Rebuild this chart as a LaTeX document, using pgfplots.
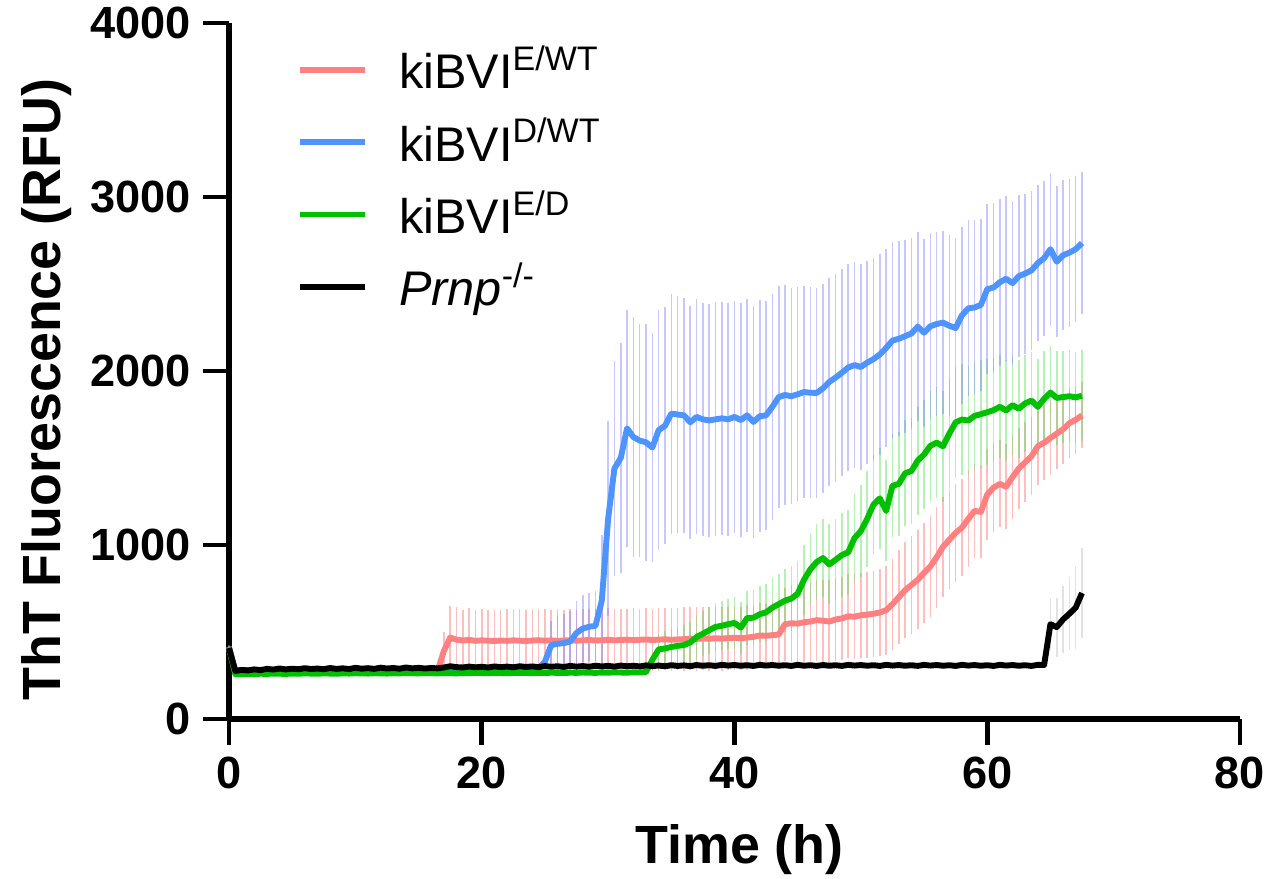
\documentclass[border=0pt]{standalone}
\usepackage{fontspec}
\setmainfont{Liberation Sans}
\usepackage{pgfplots}
\usepackage{pgfplotstable}
\pgfplotsset{compat=1.18}

\definecolor{redline}{RGB}{255,128,128}
\definecolor{blueline}{RGB}{77,148,255}
\definecolor{greenline}{RGB}{0,192,0}
\definecolor{rederr}{RGB}{255,110,110}
\definecolor{blueerr}{RGB}{130,130,255}
\definecolor{greenerr}{RGB}{90,225,90}
\definecolor{blackerr}{RGB}{190,190,190}

% t, mean and SD of each group (RFU)
\pgfplotstableread{
t r re b be g ge k ke
0 414 10 410 10 405 10 408 10
0.5 266 8 279 8 258 8 276 8
1 265 8 280 8 257 8 282 8
1.5 267 8 281 8 259 8 279 8
2 266 8 280 8 258 8 285 8
2.5 268 8 282 8 260 8 281 8
3 267 8 281 8 259 8 288 8
3.5 269 8 283 8 261 8 284 8
4 268 8 282 8 260 8 290 8
4.5 270 8 282 8 259 8 285 8
5 269 8 283 8 261 8 289 8
5.5 271 8 282 8 260 8 286 8
6 270 8 284 8 262 8 292 8
6.5 272 8 283 8 261 8 287 8
7 271 8 282 8 260 8 290 8
7.5 273 8 284 8 262 8 286 8
8 272 8 283 8 261 8 293 8
8.5 271 8 285 8 260 8 288 8
9 273 8 284 8 262 8 291 8
9.5 272 8 283 8 261 8 287 8
10 274 8 285 8 263 8 294 8
10.5 273 8 284 8 262 8 289 8
11 272 8 283 8 261 8 292 8
11.5 274 8 285 8 263 8 288 8
12 273 8 284 8 262 8 295 8
12.5 275 8 286 8 261 8 290 8
13 274 8 285 8 263 8 293 8
13.5 273 8 284 8 262 8 289 8
14 275 8 286 8 264 8 296 8
14.5 274 8 285 8 263 8 291 8
15 276 8 284 8 262 8 294 8
15.5 275 8 286 8 264 8 290 8
16 274 8 285 8 263 8 293 8
16.5 276 8 286 8 262 8 291 8
17 390 110 285 8 264 8 296 8
17.5 468 180 287 8 263 8 303 8
18 456 185 286 8 262 8 298 8
18.5 451 175 288 8 264 8 296 8
19 455 180 287 8 263 8 301 8
19.5 449 178 286 8 265 8 297 8
20 452 182 288 8 264 8 300 8
20.5 450 176 287 8 263 8 296 8
21 448 180 289 8 265 8 302 8
21.5 451 177 288 8 264 8 298 8
22 449 181 287 8 263 8 301 8
22.5 452 178 289 8 265 8 297 8
23 450 180 288 8 264 8 303 8
23.5 448 176 287 8 265 8 299 8
24 451 182 289 8 263 8 302 8
24.5 453 178 290 8 265 8 298 8
25 450 180 330 40 264 8 304 8
25.5 452 177 425 140 266 8 300 8
26 449 181 432 160 265 8 303 8
26.5 451 178 436 170 264 8 299 8
27 453 180 445 175 266 8 305 8
27.5 450 176 495 185 265 8 301 8
28 452 182 520 190 267 8 304 8
28.5 454 179 530 195 266 8 300 8
29 451 180 535 200 265 8 306 8
29.5 453 177 680 380 267 8 302 8
30 455 181 1150 560 266 8 305 8
30.5 452 178 1440 620 268 8 301 8
31 454 180 1500 660 267 8 307 8
31.5 456 178 1670 680 266 8 303 8
32 453 182 1620 690 268 8 306 8
32.5 455 179 1600 670 267 8 302 8
33 457 181 1590 680 270 8 308 8
33.5 454 178 1560 660 340 40 304 8
34 456 182 1660 690 400 90 307 8
34.5 458 179 1685 680 405 100 303 8
35 455 181 1755 690 414 105 309 8
35.5 457 178 1750 680 420 110 305 8
36 459 183 1745 675 425 115 308 8
36.5 462 180 1705 670 440 120 304 8
37 460 182 1736 675 471 125 310 8
37.5 463 179 1722 670 490 130 306 8
38 461 183 1716 668 510 135 309 8
38.5 464 180 1722 672 529 140 305 8
39 462 184 1728 668 536 142 311 8
39.5 465 181 1722 670 545 145 307 8
40 467 185 1736 668 552 148 310 8
40.5 464 182 1718 672 525 150 306 8
41 468 186 1745 668 580 155 309 8
41.5 472 183 1707 665 582 158 305 8
42 480 187 1740 668 602 162 311 8
42.5 478 184 1745 660 613 165 307 8
43 482 188 1795 650 640 170 310 8
43.5 485 195 1850 640 660 175 306 8
44 545 210 1862 630 680 180 309 8
44.5 550 220 1855 620 692 185 305 8
45 548 225 1866 615 720 190 311 8
45.5 556 228 1879 610 800 200 306 8
46 560 230 1875 605 860 210 309 8
46.5 568 233 1874 605 902 220 305 8
47 565 235 1900 600 925 225 310 8
47.5 560 236 1937 600 888 230 306 8
48 572 238 1962 598 915 235 309 8
48.5 578 240 1990 595 942 240 305 8
49 590 242 2020 595 958 245 311 8
49.5 588 243 2034 590 1040 255 307 8
50 596 245 2023 590 1080 265 310 8
50.5 600 247 2048 585 1150 275 306 8
51 605 248 2068 580 1232 285 309 8
51.5 612 250 2095 575 1268 290 305 8
52 625 255 2132 570 1196 290 311 8
52.5 660 262 2175 565 1340 295 307 8
53 700 270 2185 560 1351 300 310 8
53.5 740 275 2200 555 1412 305 306 8
54 770 280 2215 550 1425 305 309 8
54.5 800 285 2255 545 1485 310 305 8
55 840 288 2220 540 1520 312 311 8
55.5 877 290 2257 535 1570 315 307 8
56 930 290 2270 530 1588 318 310 8
56.5 990 288 2278 525 1567 320 306 8
57 1030 285 2260 520 1640 320 309 8
57.5 1070 282 2247 515 1705 320 305 8
58 1100 278 2320 510 1721 318 311 8
58.5 1150 274 2360 505 1715 315 307 8
59 1196 270 2365 500 1742 312 310 8
59.5 1190 265 2380 495 1752 310 306 8
60 1290 260 2470 490 1763 305 309 8
60.5 1330 255 2480 485 1775 300 305 8
61 1351 250 2510 480 1794 295 311 8
61.5 1335 245 2530 475 1773 290 307 8
62 1390 240 2505 470 1804 285 310 8
62.5 1440 235 2545 465 1783 282 306 8
63 1475 230 2560 460 1814 280 309 8
63.5 1510 225 2578 455 1830 278 305 8
64 1567 220 2620 450 1794 275 311 8
64.5 1588 215 2648 445 1840 272 310 10
65 1615 210 2700 440 1876 270 545 150
65.5 1640 205 2628 435 1845 268 528 170
66 1665 200 2665 430 1850 265 572 190
66.5 1700 198 2680 425 1855 265 605 210
67 1720 195 2700 420 1848 262 640 240
67.5 1745 190 2735 410 1858 260 724 260
}\data

\pgfplotsset{
  errs/.style={forget plot, draw=none, mark=none,
    error bars/.cd, y dir=both, y explicit, error mark=none,
    error bar style={line width=0.45pt, draw=#1, opacity=0.45}},
  mean/.style={#1, line width=1.7pt, line join=round, mark=none},
}

\begin{document}
\begin{tikzpicture}
\path[use as bounding box] (-65.95pt,-46.08pt) rectangle (302.69pt,207.07pt);
\begin{axis}[
  scale only axis,
  width=291.17pt, height=200.45pt,
  xmin=0, xmax=80, ymin=0, ymax=4000,
  xtick={0,20,40,60,80},
  ytick={0,1000,2000,3000,4000},
  axis x line*=bottom, axis y line*=left,
  axis line style={line width=1.7pt, -},
  tick align=outside,
  major tick length=7.5pt,
  tick style={line width=1.4pt, black},
  minor tick num=0,
  scaled y ticks=false,
  /pgf/number format/assume math mode=true,
  /pgf/number format/set thousands separator={},
  tick label style={font=\fontsize{13}{15}\selectfont\bfseries},
  label style={font=\fontsize{15.5}{18}\selectfont\bfseries},
  xlabel={Time (h)},
  ylabel={ThT Fluorescence (RFU)},
  xlabel style={at={(axis description cs:0.505,-0.188)}, anchor=center},
  ylabel style={at={(axis description cs:-0.18,0.473)}, anchor=center},
  clip=false,
  legend style={at={(0.067,0.978)}, anchor=north west, draw=none, fill=none,
    font=\fontsize{14}{16}\selectfont, row sep=3pt, column sep=7pt,
    inner sep=0pt},
  legend cell align=left,
  legend image code/.code={\draw[#1, line width=1.6pt] (0pt,0pt) -- (18.7pt,0pt);},
]
\addplot[errs=rederr] table[x=t, y=r, y error=re] {\data};
\addplot[errs=greenerr] table[x=t, y=g, y error=ge] {\data};
\addplot[errs=blueerr] table[x=t, y=b, y error=be] {\data};
\addplot[errs=blackerr] table[x=t, y=k, y error=ke] {\data};

\addplot[mean=redline] table[x=t, y=r] {\data};
\addlegendentry{kiBVI\textsuperscript{E/WT}}
\addplot[mean=blueline] table[x=t, y=b] {\data};
\addlegendentry{kiBVI\textsuperscript{D/WT}}
\addplot[mean=greenline] table[x=t, y=g] {\data};
\addlegendentry{kiBVI\textsuperscript{E/D}}
\addplot[mean=black] table[x=t, y=k] {\data};
\addlegendentry{\textit{Prnp}\textsuperscript{-/-}}
\end{axis}
\end{tikzpicture}
\end{document}
